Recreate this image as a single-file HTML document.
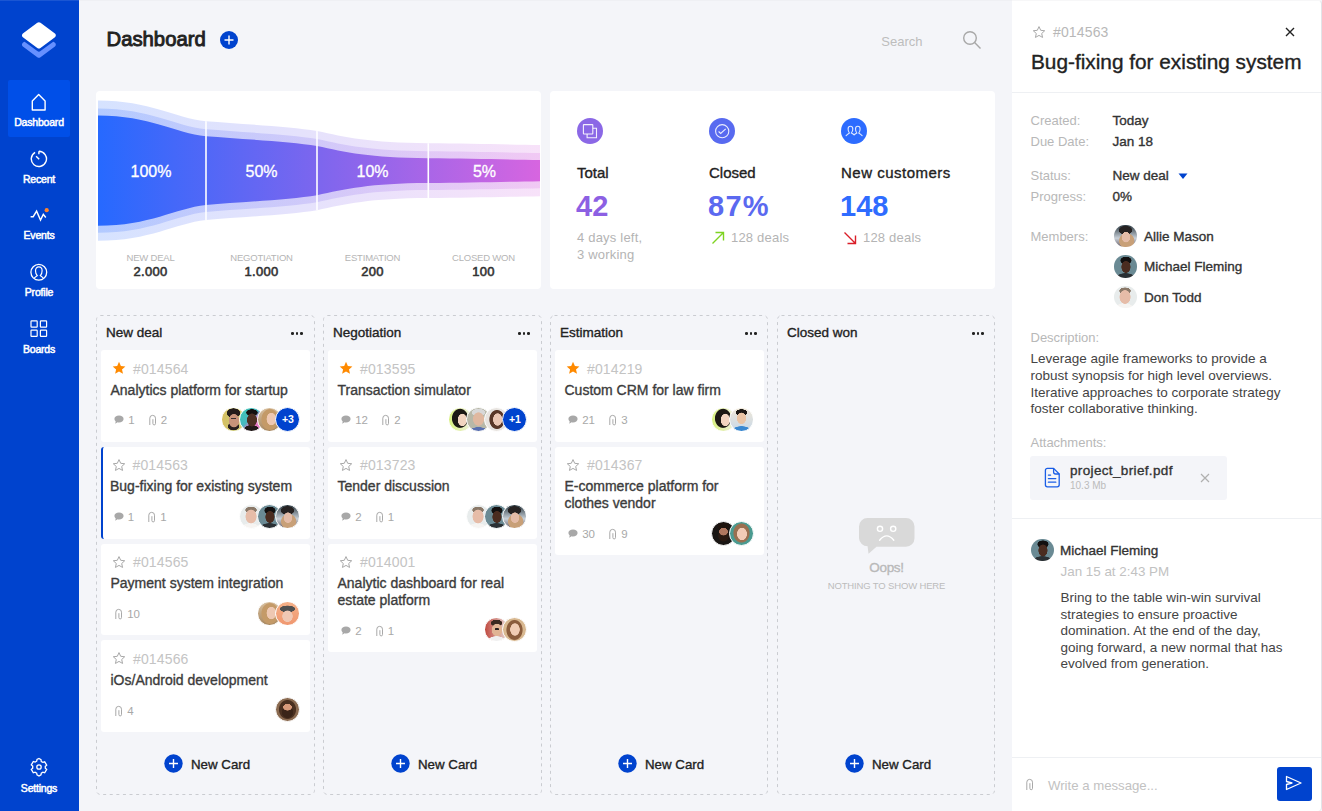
<!DOCTYPE html>
<html><head><meta charset="utf-8">
<style>
*{box-sizing:border-box;margin:0;padding:0}
html,body{width:1322px;height:811px;overflow:hidden}
body{background:#f4f5f9;font-family:"Liberation Sans",sans-serif;color:#333;position:relative}
.a{position:absolute}
.m{-webkit-text-stroke:0.35px currentColor}
.nw{white-space:nowrap}
#sb{left:0;top:0;width:79px;height:811px;background:#0043ce}
.nav{position:absolute;left:8px;width:62px;height:57px;border-radius:2px;color:#fff;text-align:center}
.nav.on{background:#004fe8}
.nav span{position:absolute;left:0;right:0;top:36px;font-size:10.5px;font-weight:400;letter-spacing:-0.2px;-webkit-text-stroke:0.5px #fff}
.nav svg{position:absolute;left:21px;top:11px}
.card{position:absolute;background:#fff;border-radius:4px}
.col{position:absolute;top:315px;width:219px;height:480px;border:1px dashed #cfd0d4;border-radius:4px}
.fl{position:absolute;top:0;width:111px;text-align:center;font-size:9.5px;color:#b5b5b5;line-height:12px;letter-spacing:-0.2px}
.fl b{display:block;font-size:13px;color:#333;font-weight:400;-webkit-text-stroke:0.6px #333;line-height:16px;letter-spacing:0.3px}
.chd{font-size:13.5px;color:#222}
.dots{width:12px;height:3px}
.dots i{position:absolute;top:0;width:2.6px;height:2.6px;border-radius:50%;background:#222}
.dots i:nth-child(1){left:0}.dots i:nth-child(2){left:4.6px}.dots i:nth-child(3){left:9.2px}
.nc{font-size:13.3px;color:#222}
.kc{position:absolute;width:209px;background:#fff;border-radius:3px}
.kc.sel{border-left:2.5px solid #0043ce}
.kc.sel>*{margin-left:-2.5px}
.kc .st{position:absolute;left:11px;top:11px}
.cid{position:absolute;left:32px;top:10.5px;font-size:14px;line-height:16px;color:#c4c4c4;letter-spacing:0.15px;white-space:nowrap}
.ctt{position:absolute;left:9.5px;top:31.5px;font-size:14px;line-height:16.7px;color:#3c3c3c;white-space:nowrap}
.meta{position:absolute;left:13px;height:12px;display:flex;align-items:center}
.mi{display:flex;align-items:center;margin-right:13px}
.mi svg{display:block}
.mi i{font-style:normal;font-size:11.5px;color:#a8a8a8;margin-left:4.2px;line-height:12px}
.avs{position:absolute;display:flex;flex-direction:row-reverse}
.avs{flex-direction:row}
.av{display:block;width:25px;height:25px;border-radius:50%;border:1.4px solid #fff;margin-left:-7px;background-size:cover}
.pav{display:block;width:22.6px;height:22.6px;border-radius:50%}
.av:first-child{margin-left:0}
.av.pl{background:#0043ce;color:#fff;font-size:10.5px;font-weight:700;text-align:center;line-height:22.2px}
.pl{left:1030.5px;font-size:13px;line-height:16px;color:#b8b8b8;white-space:nowrap}
.pv{left:1112.5px;font-size:13.5px;line-height:16px;color:#333;white-space:nowrap}
</style></head><body>

<!-- SIDEBAR -->
<div id="sb" class="a">
  <svg class="a" style="left:0;top:0" width="79" height="70" viewBox="0 0 79 70">
<path d="M24.80,44.65 L38.90,34.30 L53.00,44.65 L38.90,55.00 Z" fill="#6690ff" stroke="#6690ff" stroke-width="5.4" stroke-linejoin="round"/>
<path d="M24.80,38.55 L38.90,28.20 L53.00,38.55 L38.90,48.90 Z" fill="#0043ce" stroke="#0043ce" stroke-width="5.4" stroke-linejoin="round"/>
<path d="M24.80,35.35 L38.90,25.00 L53.00,35.35 L38.90,45.70 Z" fill="#fff" stroke="#fff" stroke-width="5.4" stroke-linejoin="round"/>
</svg>
  <div class="nav on" style="top:80px">
    <svg width="20" height="20" viewBox="0 0 20 20" fill="none" stroke="#fff" stroke-width="1.4"><path d="M3.3 19 V9.9 L9.7 3.6 L16.1 9.9 V19 Z" stroke-linejoin="round"/></svg>
    <span>Dashboard</span>
  </div>
  <div class="nav" style="top:137px">
    <svg width="20" height="20" viewBox="0 0 20 20" fill="none" stroke="#fff" stroke-width="1.4"><path d="M9.9,3.3 A7.6,7.6 0 1 1 6.1,4.3 M9.9,3.3 V6.3 M10.2,11.3 L7.1,8.2"/></svg>
    <span>Recent</span>
  </div>
  <div class="nav" style="top:193px">
    <svg width="20" height="20" viewBox="0 0 20 20" fill="none" stroke="#fff" stroke-width="1.4"><path d="M1.6 12.7 H4.2 L7.6 7.1 L11.5 16 L14.3 10.4 L16.8 13.5"/><circle cx="17.7" cy="6.2" r="2.1" fill="#ff832b" stroke="none"/></svg>
    <span>Events</span>
  </div>
  <div class="nav" style="top:250px">
    <svg width="20" height="20" viewBox="0 0 20 20" fill="none" stroke="#fff" stroke-width="1.4"><circle cx="9.8" cy="11.3" r="7.9" stroke-width="1.3"/><path stroke-width="1.2" d="M5.2,17.1 C6.4,15.9 7.5,15.2 8.3,14.6 C7,13.5 6.5,11.8 6.5,9.8 C6.5,7.4 8,5.9 9.8,5.9 C11.6,5.9 13.1,7.4 13.1,9.8 C13.1,11.8 12.6,13.5 11.3,14.6 C12.1,15.2 13.2,15.9 14.4,17.1"/></svg>
    <span>Profile</span>
  </div>
  <div class="nav" style="top:307px">
    <svg width="20" height="20" viewBox="0 0 20 20" fill="none" stroke="#fff" stroke-width="1.4"><g stroke-width="1.2"><rect x="2" y="2.9" width="6.2" height="6.2" rx="0.6"/><rect x="11.4" y="2.9" width="6.2" height="6.2" rx="0.6"/><rect x="2" y="12.2" width="6.2" height="6.2" rx="0.6"/><rect x="11.4" y="12.2" width="6.2" height="6.2" rx="0.6"/></g></svg>
    <span>Boards</span>
  </div>
  <div class="nav" style="top:746px">
    <svg width="20" height="20" viewBox="0 0 20 20" fill="none" stroke="#fff" stroke-width="1.3"><path d="M10 1.5 l2 1.2 .3 1.8 1.6 .9 1.8-.6 2 3.4-1.4 1.2v1.8l1.4 1.2-2 3.4-1.8-.6-1.6.9-.3 1.8-2 1.2-2-1.2-.3-1.8-1.6-.9-1.8.6-2-3.4 1.4-1.2V9.1L2.3 7.9l2-3.4 1.8.6 1.6-.9.3-1.8z"/><circle cx="10" cy="10" r="2.2"/></svg>
    <span>Settings</span>
  </div>
</div>

<div class="a" style="left:0;top:0;width:79px;height:1px;background:rgba(255,255,255,0.1)"></div>
<div class="a" style="left:79px;top:0;width:933px;height:1px;background:#eff0f4"></div>
<!-- HEADER -->
<div class="a nw" style="left:106.5px;top:27.5px;font-size:20.3px;font-weight:400;color:#222;-webkit-text-stroke:0.9px #222">Dashboard</div>
<svg class="a" style="left:220px;top:31px" width="18" height="18" viewBox="0 0 18 18"><circle cx="9" cy="9" r="9" fill="#0043ce"/><path d="M9 4.5v9M4.5 9h9" stroke="#fff" stroke-width="1.4"/></svg>
<div class="a nw" style="left:881.3px;top:33.5px;font-size:13px;color:#bdbdbd">Search</div>
<svg class="a" style="left:962px;top:30px" width="20" height="20" viewBox="0 0 20 20" fill="none" stroke="#a8a8a8" stroke-width="1.4"><circle cx="8" cy="8" r="6.3"/><path d="M12.6 12.6 L18.5 18.5"/></svg>

<!-- FUNNEL CARD -->
<div class="card" style="left:96px;top:91px;width:445px;height:198px"></div>
<svg class="a" style="left:96px;top:91px" width="445" height="198" viewBox="96 91 445 198">
<defs><linearGradient id="fg" x1="98" y1="0" x2="540" y2="0" gradientUnits="userSpaceOnUse"><stop offset="0" stop-color="#2669ff"/><stop offset="0.5" stop-color="#7d66ee"/><stop offset="1" stop-color="#d765e0"/></linearGradient>
<clipPath id="fc"><path d="M98,100.5 C150,100.5 175,118.0 206,121.3 C240,124.0 290,126.5 317,131.0 C345,137.0 370,143.0 428,143.2 C470,143.4 510,144.5 540,145.0 L540,196.2 C510,196.7 470,197.8 428,198.0 C370,198.2 345,204.2 317,210.2 C290,214.7 240,217.2 206,219.9 C175,223.2 150,240.7 98,240.7 Z"/></clipPath></defs>
<path d="M98,100.5 C150,100.5 175,118.0 206,121.3 C240,124.0 290,126.5 317,131.0 C345,137.0 370,143.0 428,143.2 C470,143.4 510,144.5 540,145.0 L540,196.2 C510,196.7 470,197.8 428,198.0 C370,198.2 345,204.2 317,210.2 C290,214.7 240,217.2 206,219.9 C175,223.2 150,240.7 98,240.7 Z" fill="url(#fg)" opacity="0.19"/>
<path d="M98,108.5 C150,108.5 175,126.0 206,129.3 C240,132.0 290,134.5 317,139.0 C345,145.0 370,151.0 428,151.2 C470,151.4 510,152.5 540,153.0 L540,188.2 C510,188.7 470,189.8 428,190.0 C370,190.2 345,196.2 317,202.2 C290,206.7 240,209.2 206,211.9 C175,215.2 150,232.7 98,232.7 Z" fill="url(#fg)" opacity="0.2"/>
<path d="M98,115.5 C150,115.5 175,133.0 206,136.3 C240,139.0 290,141.5 317,146.0 C345,152.0 370,158.0 428,158.2 C470,158.4 510,159.5 540,160.0 L540,181.2 C510,181.7 470,182.8 428,183.0 C370,183.2 345,189.2 317,195.2 C290,199.7 240,202.2 206,204.9 C175,208.2 150,225.7 98,225.7 Z" fill="url(#fg)"/>
<g clip-path="url(#fc)" stroke="#fff" stroke-width="1.6"><path d="M206,90V290M317,90V290M428.3,90V290"/></g>
<g fill="#fff" font-size="16" font-weight="400" text-anchor="middle" font-family="Liberation Sans" stroke="#fff" stroke-width="0.3">
<text x="151" y="177">100%</text><text x="261.5" y="177">50%</text><text x="372.5" y="177">10%</text><text x="484.5" y="177">5%</text></g>
</svg>

<div class="a" style="left:96px;top:252px;width:445px;height:30px">
 <div class="fl" style="left:-1px">NEW DEAL<b>2.000</b></div>
 <div class="fl" style="left:110px">NEGOTIATION<b>1.000</b></div>
 <div class="fl" style="left:221px">ESTIMATION<b>200</b></div>
 <div class="fl" style="left:332px">CLOSED WON<b>100</b></div>
</div>


<!-- STATS CARD -->
<div class="card" style="left:550px;top:91px;width:445px;height:198px"></div>

<svg class="a" style="left:577px;top:118px" width="26" height="26" viewBox="0 0 26 26"><circle cx="13" cy="13" r="13" fill="#8b68e6"/><g fill="none" stroke="#fff" stroke-opacity="0.9" stroke-width="1.1"><rect x="6.4" y="6.6" width="9.4" height="9.4" rx="0.5"/><path d="M15.8 10.3h3.7v9.4h-9.4v-3.7"/></g></svg>
<svg class="a" style="left:709px;top:118px" width="26" height="26" viewBox="0 0 26 26"><circle cx="13" cy="13" r="13" fill="#586af0"/><g fill="none" stroke="#fff" stroke-opacity="0.88" stroke-width="1.1"><circle cx="13.2" cy="13.2" r="6.6"/><path d="M9.6 13.5l2.1 2 5-4.6"/></g></svg>
<svg class="a" style="left:841px;top:118px" width="26" height="26" viewBox="0 0 26 26"><circle cx="13" cy="13" r="13" fill="#2d6cff"/><path d="M5.1,17.7 C6.3,16.5 7.4,15.7 8.4,15 C7.5,13.8 7.1,12.3 7.1,10.9 C7.1,9.3 8.1,8.3 9.4,8.3 C10.7,8.3 11.8,9.3 11.8,10.9 C11.8,12.3 11.3,13.8 10.4,15 C11.4,15.5 12.4,16 13.1,16.8 C13.8,16 14.8,15.5 15.8,15 C14.9,13.8 14.5,12.3 14.5,10.9 C14.5,9.3 15.5,8.3 16.8,8.3 C18.1,8.3 19.1,9.3 19.1,10.9 C19.1,12.3 18.7,13.8 17.8,15 C18.8,15.7 19.9,16.5 21.1,17.7" fill="none" stroke="#fff" stroke-opacity="0.85" stroke-width="1.1" stroke-linecap="round"/></svg>
<div class="a nw m" style="left:577px;top:164px;font-size:15px;color:#222">Total</div>
<div class="a nw m" style="left:709px;top:164px;font-size:15px;color:#222">Closed</div>
<div class="a nw m" style="left:841px;top:164px;font-size:15px;color:#222;letter-spacing:0.5px">New customers</div>
<div class="a nw" style="left:576px;top:190px;font-size:29px;font-weight:700;color:#8c60e3">42</div>
<div class="a nw" style="left:708px;top:190px;font-size:29px;font-weight:700;color:#5b69f0;letter-spacing:1.3px">87%</div>
<div class="a nw" style="left:840px;top:190px;font-size:29px;font-weight:700;color:#2f6cff">148</div>
<div class="a" style="left:577px;top:230px;font-size:13px;line-height:16.8px;color:#b4b4b4;letter-spacing:0.2px">4 days left,<br>3 working</div>
<svg class="a" style="left:710px;top:230px" width="16" height="16" viewBox="0 0 16 16" fill="none" stroke="#7ed321" stroke-width="1.4"><path d="M2.5 13.5L13.5 2.5M5.5 2.5h8v8"/></svg>
<div class="a nw" style="left:731px;top:230px;font-size:13px;line-height:16.3px;color:#b4b4b4;letter-spacing:0.2px">128 deals</div>
<svg class="a" style="left:842px;top:230px" width="16" height="16" viewBox="0 0 16 16" fill="none" stroke="#da1e28" stroke-width="1.4"><path d="M2.5 2.5L13.5 13.5M13.5 5.5v8h-8"/></svg>
<div class="a nw" style="left:863px;top:230px;font-size:13px;line-height:16.3px;color:#b4b4b4;letter-spacing:0.2px">128 deals</div>


<!-- COLUMNS -->
<svg class="a" style="left:96px;top:315px" width="219" height="480"><rect x="0.5" y="0.5" width="218" height="479" rx="4" fill="none" stroke="#caccd1" stroke-width="1" stroke-dasharray="3 3.6"/></svg>
<div class="a nw m chd" style="left:106px;top:325px">New deal</div>
<div class="a dots" style="left:291px;top:332px"><i></i><i></i><i></i></div>
<svg class="a" style="left:164px;top:754px" width="19" height="19" viewBox="0 0 19 19"><circle cx="9.5" cy="9.5" r="9.2" fill="#0043ce"/><path d="M9.5 5v9M5 9.5h9" stroke="#fff" stroke-width="1.4"/></svg>
<div class="a nw m nc" style="left:191px;top:756.5px">New Card</div>
<svg class="a" style="left:323px;top:315px" width="219" height="480"><rect x="0.5" y="0.5" width="218" height="479" rx="4" fill="none" stroke="#caccd1" stroke-width="1" stroke-dasharray="3 3.6"/></svg>
<div class="a nw m chd" style="left:333px;top:325px">Negotiation</div>
<div class="a dots" style="left:518px;top:332px"><i></i><i></i><i></i></div>
<svg class="a" style="left:391px;top:754px" width="19" height="19" viewBox="0 0 19 19"><circle cx="9.5" cy="9.5" r="9.2" fill="#0043ce"/><path d="M9.5 5v9M5 9.5h9" stroke="#fff" stroke-width="1.4"/></svg>
<div class="a nw m nc" style="left:418px;top:756.5px">New Card</div>
<svg class="a" style="left:550px;top:315px" width="218" height="480"><rect x="0.5" y="0.5" width="217" height="479" rx="4" fill="none" stroke="#caccd1" stroke-width="1" stroke-dasharray="3 3.6"/></svg>
<div class="a nw m chd" style="left:560px;top:325px">Estimation</div>
<div class="a dots" style="left:745px;top:332px"><i></i><i></i><i></i></div>
<svg class="a" style="left:618px;top:754px" width="19" height="19" viewBox="0 0 19 19"><circle cx="9.5" cy="9.5" r="9.2" fill="#0043ce"/><path d="M9.5 5v9M5 9.5h9" stroke="#fff" stroke-width="1.4"/></svg>
<div class="a nw m nc" style="left:645px;top:756.5px">New Card</div>
<svg class="a" style="left:777px;top:315px" width="218" height="480"><rect x="0.5" y="0.5" width="217" height="479" rx="4" fill="none" stroke="#caccd1" stroke-width="1" stroke-dasharray="3 3.6"/></svg>
<div class="a nw m chd" style="left:787px;top:325px">Closed won</div>
<div class="a dots" style="left:972px;top:332px"><i></i><i></i><i></i></div>
<svg class="a" style="left:845px;top:754px" width="19" height="19" viewBox="0 0 19 19"><circle cx="9.5" cy="9.5" r="9.2" fill="#0043ce"/><path d="M9.5 5v9M5 9.5h9" stroke="#fff" stroke-width="1.4"/></svg>
<div class="a nw m nc" style="left:872px;top:756.5px">New Card</div>
<div class="kc" style="left:101px;top:350.2px;height:91.7px"><svg class="st" width="14" height="14" viewBox="0 0 14 14"><path d="M7 .8l1.9 4.1 4.5.5-3.4 3 1 4.4L7 10.5l-3.9 2.3 1-4.4-3.4-3 4.5-.5z" fill="#ff8a00"/></svg><div class="cid">#014564</div><div class="ctt m">Analytics platform for startup</div><div class="meta" style="top:64.3px"><span class="mi"><svg width="10" height="10" viewBox="0 0 10 10"><path d="M5 .6C7.6.6 9.6 2.1 9.6 4S7.6 7.4 5 7.4c-.5 0-1 0-1.4-.2L1.2 8.8l.5-2.3C.9 5.8.4 4.9.4 4 .4 2.1 2.4.6 5 .6z" fill="#a8a8a8"/></svg><i>1</i></span><span class="mi"><svg width="9" height="12" viewBox="0 0 9 12"><path d="M1.8 11V4.2a2.85 2.85 0 0 1 5.7 0v5.4a1.3 1.3 0 0 1-2.6 0V5.2" fill="none" stroke="#a8a8a8" stroke-width="1"/></svg><i>2</i></span></div><div class="avs" style="top:57.2px;right:9.6px"><b class="av" style="background:radial-gradient(2.6px 0.7px at 50% 45%,#3a3030 0,#3a3030 90%,transparent 100%),radial-gradient(5.5px 7px at 52% 55%,#c8937a 0,#c8937a 90%,transparent 100%),radial-gradient(6px 4px at 50% 80%,#2a2020 0,#2a2020 90%,transparent 100%),radial-gradient(7px 5px at 50% 22%,#241c1a 0,#241c1a 90%,transparent 100%),linear-gradient(90deg,#d8c060,#c8c878 60%,#e8d070)"></b><b class="av" style="background:radial-gradient(5.2px 6.8px at 52% 52%,#4e3024 0,#4e3024 90%,transparent 100%),radial-gradient(6px 3.5px at 52% 20%,#141010 0,#141010 90%,transparent 100%),radial-gradient(8px 5px at 50% 95%,#221818 0,#221818 90%,transparent 100%),linear-gradient(135deg,#3cc8b4 0,#48b8c0 45%,#e070c0 60%,#f08ac8)"></b><b class="av" style="background:radial-gradient(5px 6.5px at 58% 48%,#eec8b2 0,#eec8b2 90%,transparent 100%),radial-gradient(9px 11px at 52% 50%,#c49a68 0,#c49a68 90%,transparent 100%),linear-gradient(#d8c0a0,#a88860)"></b><b class="av pl">+3</b></div></div>
<div class="kc sel" style="left:101px;top:446.9px;height:91.7px"><svg class="st" width="14" height="14" viewBox="0 0 14 14"><path d="M7 1.6l1.7 3.7 4 .45-3 2.75.85 3.95L7 10.4l-3.55 2.05.85-3.95-3-2.75 4-.45z" fill="none" stroke="#a8a8a8" stroke-width="1"/></svg><div class="cid">#014563</div><div class="ctt m">Bug-fixing for existing system</div><div class="meta" style="top:64.3px"><span class="mi"><svg width="10" height="10" viewBox="0 0 10 10"><path d="M5 .6C7.6.6 9.6 2.1 9.6 4S7.6 7.4 5 7.4c-.5 0-1 0-1.4-.2L1.2 8.8l.5-2.3C.9 5.8.4 4.9.4 4 .4 2.1 2.4.6 5 .6z" fill="#a8a8a8"/></svg><i>1</i></span><span class="mi"><svg width="9" height="12" viewBox="0 0 9 12"><path d="M1.8 11V4.2a2.85 2.85 0 0 1 5.7 0v5.4a1.3 1.3 0 0 1-2.6 0V5.2" fill="none" stroke="#a8a8a8" stroke-width="1"/></svg><i>1</i></span></div><div class="avs" style="top:57.2px;right:9.6px"><b class="av" style="background:radial-gradient(5.8px 7.2px at 48% 50%,#e6bca8 0,#e6bca8 90%,transparent 100%),radial-gradient(6px 3.5px at 48% 22%,#8a7868 0,#8a7868 90%,transparent 100%),radial-gradient(9px 5px at 45% 100%,#f6f4f2 0,#f6f4f2 90%,transparent 100%),#e8ecec"></b><b class="av" style="background:radial-gradient(4.8px 6.2px at 52% 52%,#4a2c20 0,#4a2c20 90%,transparent 100%),radial-gradient(5.8px 4px at 52% 24%,#121010 0,#121010 90%,transparent 100%),radial-gradient(10px 5px at 50% 100%,#2a3034 0,#2a3034 90%,transparent 100%),#6a8a94"></b><b class="av" style="background:radial-gradient(4.5px 5.5px at 52% 55%,#e4bca8 0,#e4bca8 90%,transparent 100%),radial-gradient(7px 4.5px at 50% 24%,#262222 0,#262222 90%,transparent 100%),radial-gradient(8px 8px at 55% 72%,#c8a078 0,#c8a078 90%,transparent 100%),linear-gradient(#2a3840,#c8d0d8 60%,#6a6068)"></b></div></div>
<div class="kc" style="left:101px;top:543.6px;height:91.7px"><svg class="st" width="14" height="14" viewBox="0 0 14 14"><path d="M7 1.6l1.7 3.7 4 .45-3 2.75.85 3.95L7 10.4l-3.55 2.05.85-3.95-3-2.75 4-.45z" fill="none" stroke="#a8a8a8" stroke-width="1"/></svg><div class="cid">#014565</div><div class="ctt m">Payment system integration</div><div class="meta" style="top:64.3px"><span class="mi"><svg width="9" height="12" viewBox="0 0 9 12"><path d="M1.8 11V4.2a2.85 2.85 0 0 1 5.7 0v5.4a1.3 1.3 0 0 1-2.6 0V5.2" fill="none" stroke="#a8a8a8" stroke-width="1"/></svg><i>10</i></span></div><div class="avs" style="top:57.2px;right:9.6px"><b class="av" style="background:radial-gradient(5px 6.5px at 58% 48%,#eec8b2 0,#eec8b2 90%,transparent 100%),radial-gradient(9px 11px at 52% 50%,#c49a68 0,#c49a68 90%,transparent 100%),linear-gradient(#d8c0a0,#a88860)"></b><b class="av" style="background:radial-gradient(5.5px 6px at 50% 62%,#f0c8b4 0,#f0c8b4 90%,transparent 100%),radial-gradient(8px 3.5px at 50% 30%,#505050 0,#505050 90%,transparent 100%),linear-gradient(#f4b088,#f09870)"></b></div></div>
<div class="kc" style="left:101px;top:640.3px;height:91.7px"><svg class="st" width="14" height="14" viewBox="0 0 14 14"><path d="M7 1.6l1.7 3.7 4 .45-3 2.75.85 3.95L7 10.4l-3.55 2.05.85-3.95-3-2.75 4-.45z" fill="none" stroke="#a8a8a8" stroke-width="1"/></svg><div class="cid">#014566</div><div class="ctt m">iOs/Android development</div><div class="meta" style="top:64.3px"><span class="mi"><svg width="9" height="12" viewBox="0 0 9 12"><path d="M1.8 11V4.2a2.85 2.85 0 0 1 5.7 0v5.4a1.3 1.3 0 0 1-2.6 0V5.2" fill="none" stroke="#a8a8a8" stroke-width="1"/></svg><i>4</i></span></div><div class="avs" style="top:57.2px;right:9.6px"><b class="av" style="background:radial-gradient(4.6px 3.5px at 50% 40%,#d89a7a 0,#d89a7a 90%,transparent 100%),radial-gradient(6px 6px at 50% 62%,#3a2418 0,#3a2418 90%,transparent 100%),radial-gradient(9px 10px at 50% 50%,#4a3020 0,#4a3020 90%,transparent 100%),#8a6a50"></b></div></div>
<div class="kc" style="left:328px;top:350.2px;height:91.7px"><svg class="st" width="14" height="14" viewBox="0 0 14 14"><path d="M7 .8l1.9 4.1 4.5.5-3.4 3 1 4.4L7 10.5l-3.9 2.3 1-4.4-3.4-3 4.5-.5z" fill="#ff8a00"/></svg><div class="cid">#013595</div><div class="ctt m">Transaction simulator</div><div class="meta" style="top:64.3px"><span class="mi"><svg width="10" height="10" viewBox="0 0 10 10"><path d="M5 .6C7.6.6 9.6 2.1 9.6 4S7.6 7.4 5 7.4c-.5 0-1 0-1.4-.2L1.2 8.8l.5-2.3C.9 5.8.4 4.9.4 4 .4 2.1 2.4.6 5 .6z" fill="#a8a8a8"/></svg><i>12</i></span><span class="mi"><svg width="9" height="12" viewBox="0 0 9 12"><path d="M1.8 11V4.2a2.85 2.85 0 0 1 5.7 0v5.4a1.3 1.3 0 0 1-2.6 0V5.2" fill="none" stroke="#a8a8a8" stroke-width="1"/></svg><i>2</i></span></div><div class="avs" style="top:57.2px;right:9.6px"><b class="av" style="background:radial-gradient(4.8px 6.5px at 58% 52%,#f2d4c0 0,#f2d4c0 90%,transparent 100%),radial-gradient(8.5px 10px at 48% 45%,#1c1814 0,#1c1814 90%,transparent 100%),linear-gradient(90deg,#d8f080,#f0f0e0)"></b><b class="av" style="background:radial-gradient(5.8px 7px at 50% 48%,#e0b8a0 0,#e0b8a0 90%,transparent 100%),radial-gradient(7px 4px at 50% 20%,#d8d8d8 0,#d8d8d8 90%,transparent 100%),radial-gradient(9px 4px at 50% 100%,#5a70b0 0,#5a70b0 90%,transparent 100%),#b8b8a8"></b><b class="av" style="background:radial-gradient(4.8px 6.5px at 55% 50%,#ecc8b4 0,#ecc8b4 90%,transparent 100%),radial-gradient(8px 10px at 52% 50%,#5a3828 0,#5a3828 90%,transparent 100%),#e8e4e0"></b><b class="av pl">+1</b></div></div>
<div class="kc" style="left:328px;top:446.9px;height:91.7px"><svg class="st" width="14" height="14" viewBox="0 0 14 14"><path d="M7 1.6l1.7 3.7 4 .45-3 2.75.85 3.95L7 10.4l-3.55 2.05.85-3.95-3-2.75 4-.45z" fill="none" stroke="#a8a8a8" stroke-width="1"/></svg><div class="cid">#013723</div><div class="ctt m">Tender discussion</div><div class="meta" style="top:64.3px"><span class="mi"><svg width="10" height="10" viewBox="0 0 10 10"><path d="M5 .6C7.6.6 9.6 2.1 9.6 4S7.6 7.4 5 7.4c-.5 0-1 0-1.4-.2L1.2 8.8l.5-2.3C.9 5.8.4 4.9.4 4 .4 2.1 2.4.6 5 .6z" fill="#a8a8a8"/></svg><i>2</i></span><span class="mi"><svg width="9" height="12" viewBox="0 0 9 12"><path d="M1.8 11V4.2a2.85 2.85 0 0 1 5.7 0v5.4a1.3 1.3 0 0 1-2.6 0V5.2" fill="none" stroke="#a8a8a8" stroke-width="1"/></svg><i>1</i></span></div><div class="avs" style="top:57.2px;right:9.6px"><b class="av" style="background:radial-gradient(5.8px 7.2px at 48% 50%,#e6bca8 0,#e6bca8 90%,transparent 100%),radial-gradient(6px 3.5px at 48% 22%,#8a7868 0,#8a7868 90%,transparent 100%),radial-gradient(9px 5px at 45% 100%,#f6f4f2 0,#f6f4f2 90%,transparent 100%),#e8ecec"></b><b class="av" style="background:radial-gradient(4.8px 6.2px at 52% 52%,#4a2c20 0,#4a2c20 90%,transparent 100%),radial-gradient(5.8px 4px at 52% 24%,#121010 0,#121010 90%,transparent 100%),radial-gradient(10px 5px at 50% 100%,#2a3034 0,#2a3034 90%,transparent 100%),#6a8a94"></b><b class="av" style="background:radial-gradient(4.5px 5.5px at 52% 55%,#e4bca8 0,#e4bca8 90%,transparent 100%),radial-gradient(7px 4.5px at 50% 24%,#262222 0,#262222 90%,transparent 100%),radial-gradient(8px 8px at 55% 72%,#c8a078 0,#c8a078 90%,transparent 100%),linear-gradient(#2a3840,#c8d0d8 60%,#6a6068)"></b></div></div>
<div class="kc" style="left:328px;top:543.6px;height:108.4px"><svg class="st" width="14" height="14" viewBox="0 0 14 14"><path d="M7 1.6l1.7 3.7 4 .45-3 2.75.85 3.95L7 10.4l-3.55 2.05.85-3.95-3-2.75 4-.45z" fill="none" stroke="#a8a8a8" stroke-width="1"/></svg><div class="cid">#014001</div><div class="ctt m">Analytic dashboard for real<br>estate platform</div><div class="meta" style="top:81.0px"><span class="mi"><svg width="10" height="10" viewBox="0 0 10 10"><path d="M5 .6C7.6.6 9.6 2.1 9.6 4S7.6 7.4 5 7.4c-.5 0-1 0-1.4-.2L1.2 8.8l.5-2.3C.9 5.8.4 4.9.4 4 .4 2.1 2.4.6 5 .6z" fill="#a8a8a8"/></svg><i>2</i></span><span class="mi"><svg width="9" height="12" viewBox="0 0 9 12"><path d="M1.8 11V4.2a2.85 2.85 0 0 1 5.7 0v5.4a1.3 1.3 0 0 1-2.6 0V5.2" fill="none" stroke="#a8a8a8" stroke-width="1"/></svg><i>1</i></span></div><div class="avs" style="top:73.9px;right:9.6px"><b class="av" style="background:radial-gradient(3px 0.7px at 52% 48%,#2a2020 0,#2a2020 90%,transparent 100%),radial-gradient(5.5px 6.5px at 52% 52%,#e0b494 0,#e0b494 90%,transparent 100%),radial-gradient(6px 3.5px at 50% 22%,#3a2820 0,#3a2820 90%,transparent 100%),radial-gradient(9px 5px at 50% 100%,#f0f0f0 0,#f0f0f0 90%,transparent 100%),linear-gradient(90deg,#c04a40,#e8dcd8)"></b><b class="av" style="background:radial-gradient(5px 6.5px at 52% 50%,#f0ccb4 0,#f0ccb4 90%,transparent 100%),radial-gradient(8.5px 10.5px at 50% 52%,#8a5c3c 0,#8a5c3c 90%,transparent 100%),#d8b890"></b></div></div>
<div class="kc" style="left:555px;top:350.2px;height:91.7px"><svg class="st" width="14" height="14" viewBox="0 0 14 14"><path d="M7 .8l1.9 4.1 4.5.5-3.4 3 1 4.4L7 10.5l-3.9 2.3 1-4.4-3.4-3 4.5-.5z" fill="#ff8a00"/></svg><div class="cid">#014219</div><div class="ctt m">Custom CRM for law firm</div><div class="meta" style="top:64.3px"><span class="mi"><svg width="10" height="10" viewBox="0 0 10 10"><path d="M5 .6C7.6.6 9.6 2.1 9.6 4S7.6 7.4 5 7.4c-.5 0-1 0-1.4-.2L1.2 8.8l.5-2.3C.9 5.8.4 4.9.4 4 .4 2.1 2.4.6 5 .6z" fill="#a8a8a8"/></svg><i>21</i></span><span class="mi"><svg width="9" height="12" viewBox="0 0 9 12"><path d="M1.8 11V4.2a2.85 2.85 0 0 1 5.7 0v5.4a1.3 1.3 0 0 1-2.6 0V5.2" fill="none" stroke="#a8a8a8" stroke-width="1"/></svg><i>3</i></span></div><div class="avs" style="top:57.2px;right:9.6px"><b class="av" style="background:radial-gradient(4.8px 6.5px at 58% 52%,#f2d4c0 0,#f2d4c0 90%,transparent 100%),radial-gradient(8.5px 10px at 48% 45%,#1c1814 0,#1c1814 90%,transparent 100%),linear-gradient(90deg,#d8f080,#f0f0e0)"></b><b class="av" style="background:radial-gradient(4.8px 6px at 50% 45%,#eac4a4 0,#eac4a4 90%,transparent 100%),radial-gradient(6px 3.5px at 50% 20%,#1c1814 0,#1c1814 90%,transparent 100%),radial-gradient(10px 5px at 50% 100%,#3a88d0 0,#3a88d0 90%,transparent 100%),linear-gradient(#f0e8d8,#c8d8e8)"></b></div></div>
<div class="kc" style="left:555px;top:446.9px;height:108.4px"><svg class="st" width="14" height="14" viewBox="0 0 14 14"><path d="M7 1.6l1.7 3.7 4 .45-3 2.75.85 3.95L7 10.4l-3.55 2.05.85-3.95-3-2.75 4-.45z" fill="none" stroke="#a8a8a8" stroke-width="1"/></svg><div class="cid">#014367</div><div class="ctt m">E-commerce platform for<br>clothes vendor</div><div class="meta" style="top:81.0px"><span class="mi"><svg width="10" height="10" viewBox="0 0 10 10"><path d="M5 .6C7.6.6 9.6 2.1 9.6 4S7.6 7.4 5 7.4c-.5 0-1 0-1.4-.2L1.2 8.8l.5-2.3C.9 5.8.4 4.9.4 4 .4 2.1 2.4.6 5 .6z" fill="#a8a8a8"/></svg><i>30</i></span><span class="mi"><svg width="9" height="12" viewBox="0 0 9 12"><path d="M1.8 11V4.2a2.85 2.85 0 0 1 5.7 0v5.4a1.3 1.3 0 0 1-2.6 0V5.2" fill="none" stroke="#a8a8a8" stroke-width="1"/></svg><i>9</i></span></div><div class="avs" style="top:73.9px;right:9.6px"><b class="av" style="background:radial-gradient(4.6px 4px at 50% 42%,#b07860 0,#b07860 90%,transparent 100%),radial-gradient(5.5px 6px at 50% 60%,#2a1a12 0,#2a1a12 90%,transparent 100%),radial-gradient(6px 4px at 50% 20%,#1e140e 0,#1e140e 90%,transparent 100%),#1a1614"></b><b class="av" style="background:radial-gradient(5.2px 6.5px at 52% 52%,#f2ccb6 0,#f2ccb6 90%,transparent 100%),radial-gradient(8.5px 10px at 50% 48%,#9a7050 0,#9a7050 90%,transparent 100%),#4a9a90"></b></div></div>
<svg class="a" style="left:858px;top:517px" width="58" height="38" viewBox="0 0 58 38"><path d="M9.5,0.9 H48 A8.5,8.5 0 0 1 56.5,9.4 V21.2 A8.5,8.5 0 0 1 48,29.7 H18.5 L10.5,36.8 L9.6,29.2 A8.5,8.5 0 0 1 1,21.2 V9.4 A8.5,8.5 0 0 1 9.5,0.9 Z" fill="#d9d9d9"/><g fill="none" stroke="#fff" stroke-width="1.4" stroke-linecap="round"><circle cx="22" cy="11.8" r="2.6"/><circle cx="35.2" cy="11.8" r="2.6"/><path d="M21.6,23.2 Q28.7,14.6 35.8,23.2"/></g></svg>
<div class="a nw m" style="left:777px;width:219px;text-align:center;top:560px;font-size:13.5px;color:#b9b9b9;letter-spacing:-0.3px">Oops!</div>
<div class="a nw" style="left:777px;width:219px;text-align:center;top:580px;font-size:9.5px;color:#bcbcbc;letter-spacing:-0.15px">NOTHING TO SHOW HERE</div>

<!-- RIGHT PANEL -->
<div class="a" style="left:1012px;top:0;width:310px;height:811px;background:#fff;border-top:1px solid #f7f7f8;border-right:1px solid #e2e4e8;border-radius:0 4px 4px 0"></div>
<div class="a" style="left:1012px;top:92px;width:309px;height:1px;background:#eef0f3"></div>
<div class="a" style="left:1012px;top:518px;width:309px;height:1px;background:#eef0f3"></div>
<div class="a" style="left:1012px;top:757px;width:309px;height:1px;background:#eef0f3"></div>
<svg class="a" style="left:1032px;top:24.5px" width="14" height="14" viewBox="0 0 14 14"><path d="M7 1.6l1.7 3.7 4 .45-3 2.75.85 3.95L7 10.4l-3.55 2.05.85-3.95-3-2.75 4-.45z" fill="none" stroke="#a8a8a8" stroke-width="1"/></svg>
<div class="a nw" style="left:1053px;top:24px;font-size:14px;line-height:16px;color:#b8b8b8;letter-spacing:0.15px">#014563</div>
<svg class="a" style="left:1285px;top:26.5px" width="10" height="10" viewBox="0 0 10 10"><path d="M1 1l8 8M9 1l-8 8" stroke="#222" stroke-width="1.4"/></svg>
<div class="a nw m" style="left:1031px;top:50px;font-size:20.8px;line-height:24px;color:#222">Bug-fixing for existing system</div>
<div class="a pl" style="top:112.5px">Created:</div><div class="a pv m" style="top:112.5px">Today</div>
<div class="a pl" style="top:134px">Due Date:</div><div class="a pv m" style="top:134px">Jan 18</div>
<div class="a pl" style="top:168px">Status:</div><div class="a pv m" style="top:168px">New deal</div>
<svg class="a" style="left:1178px;top:172.5px" width="10" height="7" viewBox="0 0 10 7"><path d="M0.5 0.5h9L5 6z" fill="#0043ce"/></svg>
<div class="a pl" style="top:189px">Progress:</div><div class="a pv m" style="top:189px">0%</div>
<div class="a pl" style="top:228.5px">Members:</div>
<b class="a pav" style="left:1114px;top:224.7px;background:radial-gradient(4.5px 5.5px at 52% 55%,#e4bca8 0,#e4bca8 90%,transparent 100%),radial-gradient(7px 4.5px at 50% 24%,#262222 0,#262222 90%,transparent 100%),radial-gradient(8px 8px at 55% 72%,#c8a078 0,#c8a078 90%,transparent 100%),linear-gradient(#2a3840,#c8d0d8 60%,#6a6068)"></b><div class="a pv m" style="left:1144px;top:228.8px">Allie Mason</div>
<b class="a pav" style="left:1114px;top:255.3px;background:radial-gradient(4.8px 6.2px at 52% 52%,#4a2c20 0,#4a2c20 90%,transparent 100%),radial-gradient(5.8px 4px at 52% 24%,#121010 0,#121010 90%,transparent 100%),radial-gradient(10px 5px at 50% 100%,#2a3034 0,#2a3034 90%,transparent 100%),#6a8a94"></b><div class="a pv m" style="left:1144px;top:259.4px">Michael Fleming</div>
<b class="a pav" style="left:1114px;top:285.9px;background:radial-gradient(5.8px 7.2px at 48% 50%,#e6bca8 0,#e6bca8 90%,transparent 100%),radial-gradient(6px 3.5px at 48% 22%,#8a7868 0,#8a7868 90%,transparent 100%),radial-gradient(9px 5px at 45% 100%,#f6f4f2 0,#f6f4f2 90%,transparent 100%),#e8ecec"></b><div class="a pv m" style="left:1144px;top:290.0px">Don Todd</div>
<div class="a pl" style="top:330px">Description:</div>
<div class="a" style="left:1030.5px;top:351px;font-size:13.5px;line-height:16.8px;color:#444;white-space:nowrap">Leverage agile frameworks to provide a<br>robust synopsis for high level overviews.<br>Iterative approaches to corporate strategy<br>foster collaborative thinking.</div>
<div class="a pl" style="top:435px">Attachments:</div>
<div class="a" style="left:1030px;top:456px;width:197px;height:44px;background:#f4f5f9;border-radius:3px"></div>
<svg class="a" style="left:1044px;top:467px" width="16" height="21" viewBox="0 0 16 21" fill="none" stroke="#1a5ee6" stroke-width="1.3" stroke-linecap="round" stroke-linejoin="round"><path d="M3.4 1.4H9.6L15.2 7V17.8A2 2 0 0 1 13.2 19.8H3.4A2 2 0 0 1 1.4 17.8V3.4A2 2 0 0 1 3.4 1.4Z"/><path d="M9.6 1.6V5A2 2 0 0 0 11.6 7H15M4.4 8.1H6.6M4.4 11.6H11.8M4.4 15.2H11.8"/></svg>
<div class="a nw m" style="left:1070px;top:463px;font-size:13.5px;line-height:16px;color:#333;letter-spacing:0.35px">project_brief.pdf</div>
<div class="a nw" style="left:1070px;top:479.5px;font-size:10px;line-height:12px;color:#bbb">10.3 Mb</div>
<svg class="a" style="left:1199.5px;top:473px" width="10" height="10" viewBox="0 0 10 10"><path d="M1 1l8 8M9 1l-8 8" stroke="#b0b0b0" stroke-width="1.2"/></svg>
<b class="a pav" style="left:1031px;top:538.8px;background:radial-gradient(4.8px 6.2px at 52% 52%,#4a2c20 0,#4a2c20 90%,transparent 100%),radial-gradient(5.8px 4px at 52% 24%,#121010 0,#121010 90%,transparent 100%),radial-gradient(10px 5px at 50% 100%,#2a3034 0,#2a3034 90%,transparent 100%),#6a8a94"></b><div class="a nw m" style="left:1060px;top:543px;font-size:13.5px;line-height:16px;color:#333">Michael Fleming</div>
<div class="a nw" style="left:1060.5px;top:564px;font-size:13.4px;line-height:16px;color:#c2c2c2">Jan 15 at 2:43 PM</div>
<div class="a" style="left:1060.5px;top:590px;font-size:13.5px;line-height:16.6px;color:#444;white-space:nowrap">Bring to the table win-win survival<br>strategies to ensure proactive<br>domination. At the end of the day,<br>going forward, a new normal that has<br>evolved from generation.</div>
<svg class="a" style="left:1025px;top:778px" width="9" height="13" viewBox="0 0 9 13"><path d="M1.8 12V4.2a2.85 2.85 0 0 1 5.7 0v6.2a1.3 1.3 0 0 1-2.6 0V5.2" fill="none" stroke="#a8a8a8" stroke-width="1"/></svg>
<div class="a nw" style="left:1048px;top:777.5px;font-size:13.2px;line-height:16px;color:#c2c2c2">Write a message...</div>
<div class="a" style="left:1276.5px;top:766.5px;width:35.5px;height:34px;background:#0043ce;border-radius:3px"></div>
<svg class="a" style="left:1284px;top:774px" width="20" height="18" viewBox="0 0 20 18"><path d="M2.5 2.5L17 9 2.5 15.5V10.5L8 9 2.5 7.5z" fill="none" stroke="#fff" stroke-width="1.3" stroke-linejoin="round"/></svg>

</body></html>
